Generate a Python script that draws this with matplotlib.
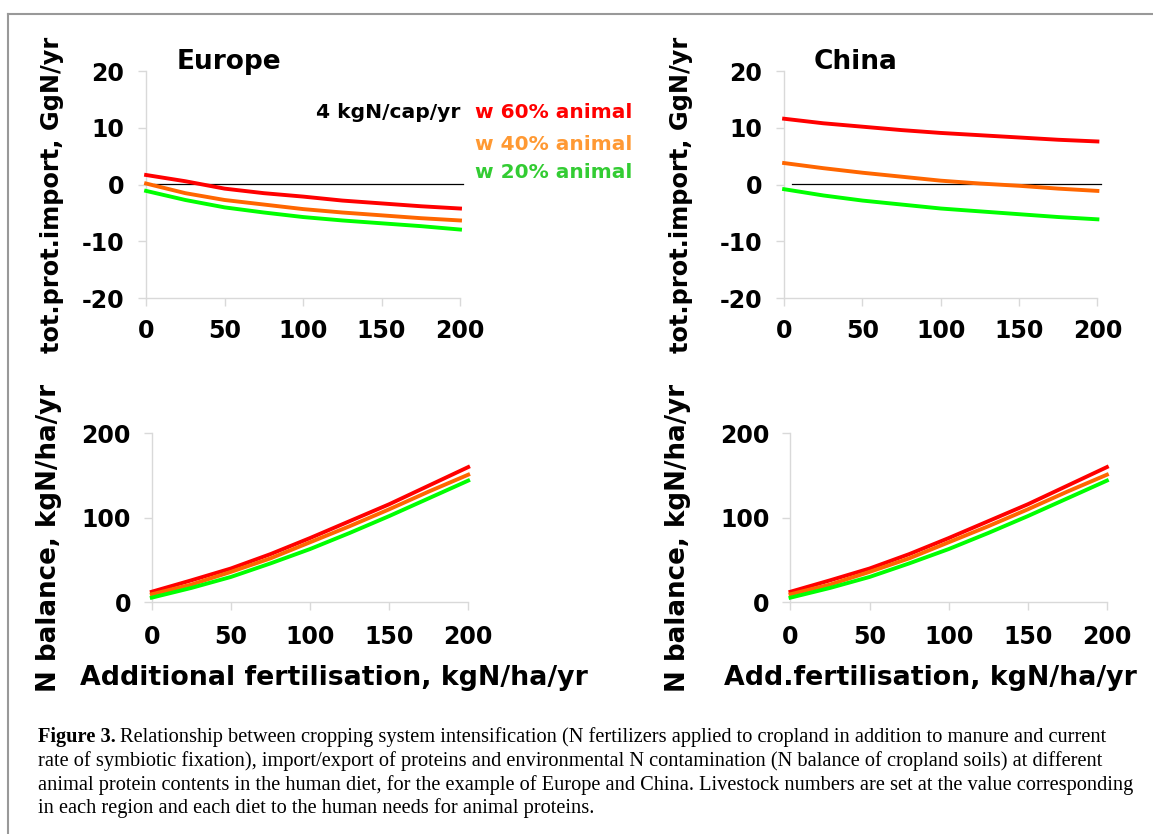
import matplotlib
matplotlib.use("Agg")
import matplotlib.pyplot as plt

# fertilisation levels, kgN/ha/yr
fert = [0, 25, 50, 75, 100, 125, 150, 175, 200]

# protein import, GgN/yr
eu_imp_60 = [1.7, 0.6, -0.7, -1.5, -2.1, -2.8, -3.3, -3.8, -4.2]
eu_imp_40 = [0.2, -1.5, -2.7, -3.5, -4.3, -4.9, -5.4, -5.9, -6.3]
eu_imp_20 = [-1.1, -2.7, -4.0, -4.9, -5.7, -6.3, -6.8, -7.3, -7.9]
cn_imp_60 = [11.6, 10.8, 10.2, 9.6, 9.1, 8.7, 8.3, 7.9, 7.6]
cn_imp_40 = [3.8, 2.9, 2.1, 1.4, 0.7, 0.2, -0.2, -0.7, -1.1]
cn_imp_20 = [-0.8, -1.9, -2.8, -3.5, -4.2, -4.7, -5.2, -5.7, -6.1]

# N balance, kgN/ha/yr
eu_bal_60 = [12.5, 26, 40, 57, 76, 96, 116, 138, 160]
eu_bal_40 = [9.5, 21, 36, 52, 71, 90, 110, 131, 151]
eu_bal_20 = [5.5, 17, 30, 46, 63, 82, 102, 123, 144]
cn_bal_60 = [12.5, 26, 40, 57, 76, 96, 116, 138, 160]
cn_bal_40 = [9.5, 21, 36, 52, 71, 90, 110, 131, 151]
cn_bal_20 = [5.5, 17, 30, 46, 63, 82, 102, 123, 144]

zero_x = [5, 202]
zero_y = [0.2, 0.2]

diet_labels = ['w 60% animal', 'w 40% animal', 'w 20% animal']
line_cols = ['#FF0000', '#FF6600', '#00FF00']
text_cols = ['#FF0000', '#FF9933', '#33CC33']

W, H = 1153, 834
plt.rcParams['font.family'] = ['DejaVu Sans']
fig = plt.figure(figsize=(W / 100, H / 100), dpi=100)


def px_axes(l, r, t, b):
    return fig.add_axes([l / W, 1 - b / H, (r - l) / W, (b - t) / H])


def style(ax, ylim, yticks, xpad, ypad):
    ax.set_xlim(0, 200)
    ax.set_ylim(*ylim)
    ax.set_xticks([0, 50, 100, 150, 200])
    ax.set_yticks(yticks)
    for s in ['top', 'right']:
        ax.spines[s].set_visible(False)
    for s in ['left', 'bottom']:
        ax.spines[s].set_color('#D9D9D9')
        ax.spines[s].set_linewidth(1)
    ax.tick_params(axis='both', direction='out', length=6, width=1,
                   color='#D9D9D9', labelsize=17)
    ax.tick_params(axis='x', pad=xpad)
    ax.tick_params(axis='y', pad=ypad)
    for lab in ax.get_xticklabels() + ax.get_yticklabels():
        lab.set_fontweight('bold')


def draw_lines(ax, series):
    for ys, c in zip(series, line_cols):
        ax.plot(fert, ys, color=c, lw=2.8, clip_on=False, zorder=3)


ax1 = px_axes(146.1, 460, 71, 298.3)
ax2 = px_axes(784.1, 1097.4, 71, 298.3)
ax3 = px_axes(151.8, 468.2, 433.3, 602.3)
ax4 = px_axes(790.5, 1106.9, 433.3, 602.3)

for ax, series in [(ax1, [eu_imp_60, eu_imp_40, eu_imp_20]),
                   (ax2, [cn_imp_60, cn_imp_40, cn_imp_20])]:
    ax.plot(zero_x, zero_y, color='black', lw=0.9, zorder=2, clip_on=False)
    draw_lines(ax, series)
    style(ax, (-20, 20), [-20, -10, 0, 10, 20], 9, 10)
    ax.set_yticklabels(['-20', '-10', '0', '10', '20'])

for ax, series in [(ax3, [eu_bal_60, eu_bal_40, eu_bal_20]),
                   (ax4, [cn_bal_60, cn_bal_40, cn_bal_20])]:
    draw_lines(ax, series)
    style(ax, (0, 200), [0, 100, 200], 10, 9)


def ftext(x, y, s, **kw):
    return fig.text(x / W, 1 - y / H, s, **kw)


# panel titles
ftext(177, 62, 'Europe', fontsize=19, fontweight='bold', va='center')
ftext(814, 62, 'China', fontsize=19, fontweight='bold', va='center')

# diet legend
ftext(460, 112, '4 kgN/cap/yr', fontsize=14.6, fontweight='bold',
      ha='right', va='center')
for lab, c, y in zip(diet_labels, text_cols, [112, 144, 173]):
    ftext(475, y, lab, fontsize=14.5, fontweight='bold', color=c, va='center')

# axis labels
for x in [52, 681]:
    ftext(x, 195, 'tot.prot.import, GgN/yr', fontsize=17.3,
          fontweight='bold', rotation=90, ha='center', va='center')
    ftext(x - 3, 538, 'N balance, kgN/ha/yr', fontsize=18.8,
          fontweight='bold', rotation=90, ha='center', va='center')
ftext(334, 678, 'Additional fertilisation, kgN/ha/yr', fontsize=19.3,
      fontweight='bold', ha='center', va='center')
ftext(930, 678, 'Add.fertilisation, kgN/ha/yr', fontsize=19.3,
      fontweight='bold', ha='center', va='center')

# caption
cap = [
    'Relationship between cropping system intensification (N fertilizers applied to cropland in addition to manure and current',
    'rate of symbiotic fixation), import/export of proteins and environmental N contamination (N balance of cropland soils) at different',
    'animal protein contents in the human diet, for the example of Europe and China. Livestock numbers are set at the value corresponding',
    'in each region and each diet to the human needs for animal proteins.',
]
serif = ['Liberation Serif', 'DejaVu Serif']
fig_lab = ftext(38, 737, 'Figure 3.', fontsize=14.7, fontweight='bold',
                family=serif, va='center')
fig.canvas.draw()
bb = fig_lab.get_window_extent()
ftext(bb.x1 + 4, 737, cap[0], fontsize=14.7, family=serif, va='center')
for i, line in enumerate(cap[1:]):
    ftext(38, 761 + 23.7 * i, line, fontsize=14.7, family=serif, va='center')

# frame lines
fig.add_artist(plt.Line2D([7.5 / W, 1], [1 - 14 / H, 1 - 14 / H],
                          transform=fig.transFigure, color='#999999', lw=1.5))
fig.add_artist(plt.Line2D([7.5 / W, 7.5 / W], [0, 1 - 14 / H],
                          transform=fig.transFigure, color='#999999', lw=1.5))

fig.savefig('out.png', dpi=100)
